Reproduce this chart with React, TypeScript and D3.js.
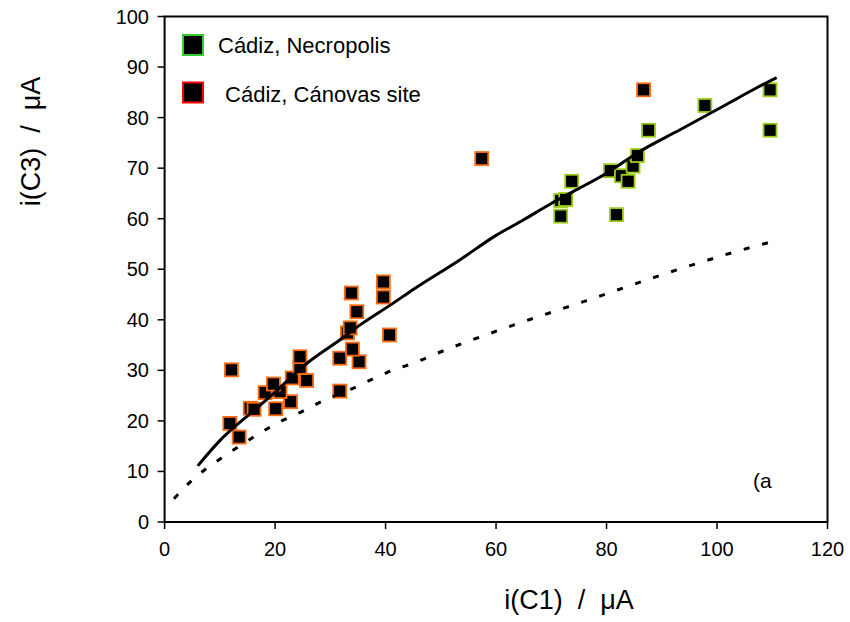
import React from "react";
import * as d3 from "d3";

const xTicks = [0, 20, 40, 60, 80, 100, 120];
const yTicks = [0, 10, 20, 30, 40, 50, 60, 70, 80, 90, 100];

const canovasX = [11.8, 13.5, 12.1, 15.5, 16.2, 20.1, 22.8, 18.2, 20.9, 19.7, 23.1, 25.7, 24.5, 24.5, 31.7, 31.7, 35.2, 34.0, 33.1, 33.6, 40.7, 34.8, 33.8, 39.6, 39.6, 57.4, 86.7];
const canovasY = [19.5, 16.8, 30.1, 22.5, 22.3, 22.4, 23.8, 25.6, 25.8, 27.3, 28.5, 28.0, 30.6, 32.7, 25.9, 32.4, 31.7, 34.2, 37.4, 38.4, 37.0, 41.6, 45.3, 44.5, 47.5, 71.9, 85.5];

const necroX = [71.7, 71.7, 72.6, 73.7, 80.7, 81.8, 82.7, 83.9, 84.8, 85.6, 87.6, 97.8, 109.6, 109.6];
const necroY = [60.5, 63.6, 63.8, 67.4, 69.5, 60.8, 68.5, 67.4, 70.4, 72.5, 77.5, 82.4, 85.5, 77.5];

const fitX = [6, 10, 15, 19, 26, 31.7, 35.4, 41.4, 45, 53.5, 60, 65, 70, 74, 80, 86, 93.3, 101.7, 107.2, 110.8];
const fitY = [11.1, 16.1, 21.0, 24.7, 31.6, 36.0, 39.0, 43.3, 46.0, 51.9, 56.7, 59.8, 63.0, 65.4, 69.0, 73.3, 77.6, 82.6, 85.9, 87.9];

const dashX = [1.7, 4.9, 7.6, 10.9, 17.3, 20.6, 24.2, 27.8, 34.8, 38.1, 41.7, 45.3, 48.3, 62.5, 76.4, 90.3, 104.1, 110.8];
const dashY = [4.6, 8.2, 10.6, 13.1, 17.6, 19.7, 21.5, 23.5, 26.8, 28.5, 30.2, 31.5, 32.9, 38.7, 43.8, 49.0, 53.7, 55.7];

const legendLabels = ["Cádiz, Necropolis", " Cádiz, Cánovas site"];

const FONT = "'Liberation Sans', Arial, sans-serif";

export default function App() {
  const x = d3.scaleLinear().domain([0, 120]).range([164.6, 827.5]);
  const y = d3.scaleLinear().domain([0, 100]).range([522, 16.5]);
  const line = d3
    .line<[number, number]>()
    .x((d) => x(d[0]))
    .y((d) => y(d[1]))
    .curve(d3.curveMonotoneX);
  const fit = fitX.map((v, i) => [v, fitY[i]] as [number, number]);
  const dash = dashX.map((v, i) => [v, dashY[i]] as [number, number]);
  const ms = 13;

  return (
    <svg
      width={850}
      height={622}
      style={{ position: "absolute", left: 0, top: 0, background: "#fff" }}
      fontFamily={FONT}
    >
      <rect x={0} y={0} width={850} height={622} fill="#fff" />
      <rect
        x={x(0)}
        y={y(100)}
        width={x(120) - x(0)}
        height={y(0) - y(100)}
        fill="none"
        stroke="#000"
        strokeWidth={2}
      />
      {yTicks.map((t) => (
        <g key={"y" + t}>
          <line x1={x(0) - 7} x2={x(0)} y1={y(t)} y2={y(t)} stroke="#000" strokeWidth={1.5} />
          <text x={149} y={y(t) + 7} textAnchor="end" fontSize={20} fill="#000">
            {t}
          </text>
        </g>
      ))}
      {xTicks.map((t) => (
        <g key={"x" + t}>
          <line x1={x(t)} x2={x(t)} y1={y(0)} y2={y(0) + 7} stroke="#000" strokeWidth={1.5} />
          <text x={x(t)} y={556} textAnchor="middle" fontSize={20} fill="#000">
            {t}
          </text>
        </g>
      ))}
      {canovasX.map((v, i) => (
        <rect
          key={"c" + i}
          x={x(v) - ms / 2}
          y={y(canovasY[i]) - ms / 2}
          width={ms}
          height={ms}
          fill="#000"
          stroke="#ff6a10"
          strokeWidth={1.8}
        />
      ))}
      {necroX.map((v, i) => (
        <rect
          key={"n" + i}
          x={x(v) - ms / 2}
          y={y(necroY[i]) - ms / 2}
          width={ms}
          height={ms}
          fill="#000"
          stroke="#9acd1a"
          strokeWidth={1.8}
        />
      ))}
      <path d={line(fit) || ""} fill="none" stroke="#000" strokeWidth={3} />
      <path
        d={line(dash) || ""}
        fill="none"
        stroke="#000"
        strokeWidth={3}
        strokeDasharray="6 13"
      />
      <rect x={183} y={35} width={20} height={20} fill="#000" stroke="#33cc33" strokeWidth={2} />
      <text x={218} y={53} fontSize={22} fill="#000" style={{ whiteSpace: "pre" }}>
        {legendLabels[0]}
      </text>
      <rect x={183} y={82.5} width={20} height={20} fill="#000" stroke="#ff0000" strokeWidth={2} />
      <text x={219} y={101.5} fontSize={22} fill="#000" style={{ whiteSpace: "pre" }}>
        {legendLabels[1]}
      </text>
      <text x={753} y={488} fontSize={21} fill="#000">
        (a
      </text>
      <text
        x={569}
        y={609}
        textAnchor="middle"
        fontSize={27}
        fill="#000"
        style={{ whiteSpace: "pre" }}
      >
        {"i(C1)  /  μA"}
      </text>
      <text
        transform="translate(40,141.5) rotate(-90)"
        textAnchor="middle"
        fontSize={27}
        fill="#000"
        style={{ whiteSpace: "pre" }}
      >
        {"i(C3)  /  μA"}
      </text>
    </svg>
  );
}
